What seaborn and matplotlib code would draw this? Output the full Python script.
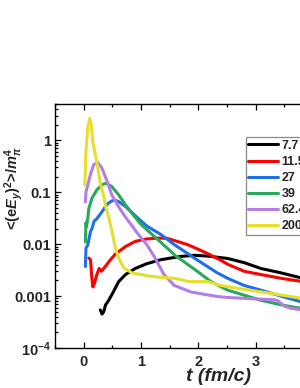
import numpy as np
import pandas as pd
import matplotlib
matplotlib.use("Agg")
import matplotlib.pyplot as plt
import seaborn as sns
from matplotlib.ticker import FixedLocator, FixedFormatter, MultipleLocator, LogLocator, NullFormatter

# ---- data ----
labels = ["7.7", "11.5", "27", "39", "62.4", "200"]
colors = ["#000000", "#ff0000", "#1f6fe8", "#2aa85c", "#b47fe4", "#e6df2e"]

t_77 = [0.29, 0.32, 0.35, 0.38, 0.44, 0.52, 0.61, 0.73, 0.90, 1.10, 1.34, 1.52, 1.69, 1.93, 2.16, 2.39, 2.51, 2.80, 3.09, 3.44, 3.82]
v_77 = [5.4e-4, 4.5e-4, 5.0e-4, 6.7e-4, 8.4e-4, 1.22e-3, 1.9e-3, 2.6e-3, 3.4e-3, 4.2e-3, 5.0e-3, 5.4e-3, 5.8e-3, 6.1e-3, 5.9e-3, 5.5e-3, 5.3e-3, 4.4e-3, 3.4e-3, 2.8e-3, 2.2e-3]

t_115 = [0.09, 0.12, 0.14, 0.16, 0.19, 0.23, 0.27, 0.31, 0.35, 0.44, 0.55, 0.73, 0.90, 1.10, 1.30, 1.46, 1.69, 1.81, 1.93, 2.16, 2.39, 2.51, 2.80, 3.09, 3.44, 3.82]
v_115 = [5.4e-3, 5.0e-3, 2.4e-3, 1.5e-3, 1.8e-3, 2.6e-3, 3.4e-3, 3.0e-3, 3.4e-3, 4.6e-3, 6.4e-3, 9.0e-3, 1.13e-2, 1.26e-2, 1.31e-2, 1.29e-2, 1.08e-2, 9.8e-3, 8.6e-3, 6.6e-3, 4.9e-3, 4.1e-3, 3.0e-3, 2.6e-3, 2.2e-3, 1.9e-3]

t_27 = [0.03, 0.04, 0.07, 0.12, 0.15, 0.18, 0.23, 0.32, 0.41, 0.49, 0.55, 0.61, 0.73, 0.85, 0.94, 1.11, 1.34, 1.58, 1.93, 2.33, 2.51, 2.80, 3.09, 3.44, 3.82]
v_27 = [3.7e-3, 8.4e-3, 9.5e-3, 1.76e-2, 2.05e-2, 2.75e-2, 3.1e-2, 4.2e-2, 5.9e-2, 6.8e-2, 7.0e-2, 6.6e-2, 5.3e-2, 4.0e-2, 3.2e-2, 2.2e-2, 1.55e-2, 9.8e-3, 5.4e-3, 2.8e-3, 2.2e-3, 1.6e-3, 1.3e-3, 1.0e-3, 7.6e-4]

t_39 = [0.03, 0.04, 0.05, 0.06, 0.075, 0.09, 0.145, 0.23, 0.32, 0.39, 0.49, 0.61, 0.73, 0.87, 1.00, 1.34, 1.60, 1.93, 2.22, 2.51, 3.09, 3.44, 3.82]
v_39 = [1.1e-2, 2.6e-2, 2.2e-2, 2.6e-2, 3.4e-2, 4.9e-2, 7.7e-2, 0.111, 0.139, 0.149, 0.129, 0.089, 0.057, 0.036, 0.024, 0.011, 6.0e-3, 3.3e-3, 1.9e-3, 1.3e-3, 8.3e-4, 6.8e-4, 5.7e-4]

t_624 = [0.03, 0.04, 0.058, 0.117, 0.175, 0.244, 0.32, 0.41, 0.49, 0.61, 0.73, 0.85, 0.94, 1.10, 1.23, 1.40, 1.58, 1.87, 2.33, 2.51, 3.09, 3.30, 3.38, 3.50, 3.62, 3.82]
v_624 = [0.065, 0.10, 0.12, 0.217, 0.34, 0.38, 0.29, 0.161, 0.089, 0.052, 0.033, 0.022, 0.016, 9.8e-3, 5.8e-3, 2.6e-3, 1.6e-3, 1.2e-3, 9.8e-4, 9.4e-4, 8.7e-4, 8.6e-4, 8.2e-4, 6.4e-4, 5.8e-4, 5.4e-4]

t_200 = [0.02, 0.04, 0.07, 0.105, 0.134, 0.157, 0.204, 0.244, 0.29, 0.35, 0.39, 0.44, 0.494, 0.553, 0.61, 0.70, 0.84, 1.00, 1.17, 1.34, 1.58, 1.84, 2.16, 2.39, 2.80, 3.32, 3.82]
v_200 = [0.14, 0.61, 1.73, 2.63, 2.01, 0.96, 0.53, 0.31, 0.149, 0.083, 0.049, 0.032, 0.0176, 0.0084, 0.0054, 0.0035, 0.0028, 0.0026, 0.0024, 0.0023, 0.0022, 0.0019, 0.0019, 0.0016, 0.00135, 0.0011, 0.0009]

ytick_vals = [1e-4, 1e-3, 1e-2, 1e-1, 1]
ytick_labels = [r"$10^{-4}$", "0.001", "0.01", "0.1", "1"]
xtick_vals = [0, 1, 2, 3]

series = [(t_77, v_77), (t_115, v_115), (t_27, v_27), (t_39, v_39), (t_624, v_624), (t_200, v_200)]
frames = []
for lab, (t, v) in zip(labels, series):
    frames.append(pd.DataFrame({"t": t, "v": v, "E": lab}))
df = pd.concat(frames, ignore_index=True)

sns.set_style("ticks")
plt.rcParams["font.family"] = ["Liberation Sans", "DejaVu Sans"]
plt.rcParams["font.weight"] = "bold"
plt.rcParams["mathtext.fontset"] = "custom"
plt.rcParams["mathtext.rm"] = "Liberation Sans:bold"
plt.rcParams["mathtext.bf"] = "Liberation Sans:bold"
plt.rcParams["mathtext.it"] = "Liberation Sans:italic:bold"

fig = plt.figure(figsize=(3.0, 3.88), dpi=100)
ax = fig.add_axes([55/300, 1 - 348/388, 328/300, 244/388])

sns.lineplot(data=df, x="t", y="v", hue="E", hue_order=labels,
             palette=dict(zip(labels, colors)), estimator=None, sort=False,
             linewidth=2.2, ax=ax)

ax.set_yscale("log")
ax.set_xlim(-0.5, 5.22)
ax.set_ylim(1e-4, 5)

ax.yaxis.set_major_locator(FixedLocator(ytick_vals))
ax.yaxis.set_major_formatter(FixedFormatter(ytick_labels))
ax.yaxis.set_minor_locator(LogLocator(base=10, subs=np.arange(2, 10), numticks=20))
ax.yaxis.set_minor_formatter(NullFormatter())
ax.xaxis.set_major_locator(FixedLocator(xtick_vals))
ax.xaxis.set_minor_locator(MultipleLocator(0.5))

ax.tick_params(which="both", direction="in", top=True, right=True, width=0.9, color="black")
ax.tick_params(which="major", length=4)
ax.tick_params(which="minor", length=2.3)
ax.tick_params(axis="x", which="major", labelsize=10.5, pad=5)
ax.tick_params(axis="y", which="major", labelsize=10.5, pad=3)
for lab in ax.get_xticklabels() + ax.get_yticklabels():
    lab.set_fontweight("bold")
for sp in ax.spines.values():
    sp.set_linewidth(1.0)
    sp.set_color("black")

ax.set_xlabel("t (fm/c)", fontsize=14, fontweight="bold", fontstyle="italic")
ax.xaxis.set_label_coords(0.5, -0.082)
ax.set_ylabel(r"$\text{<(e}E_y\text{)}^2\text{>/}m_\pi^4$", fontsize=10.5)
ax.yaxis.set_label_coords(-0.09, 0.655)

leg = ax.legend(loc="upper left", bbox_to_anchor=(0.582, 0.8635), frameon=True,
                fancybox=False, edgecolor="#888888", framealpha=1,
                prop={"size": 9, "weight": "bold"}, handlelength=2.4,
                handletextpad=0.25, labelspacing=0.33, borderpad=0.2,
                borderaxespad=0, title=None)
leg.get_frame().set_linewidth(0.9)
for line in leg.get_lines():
    line.set_linewidth(2.2)

fig.savefig("out.png", dpi=100)
